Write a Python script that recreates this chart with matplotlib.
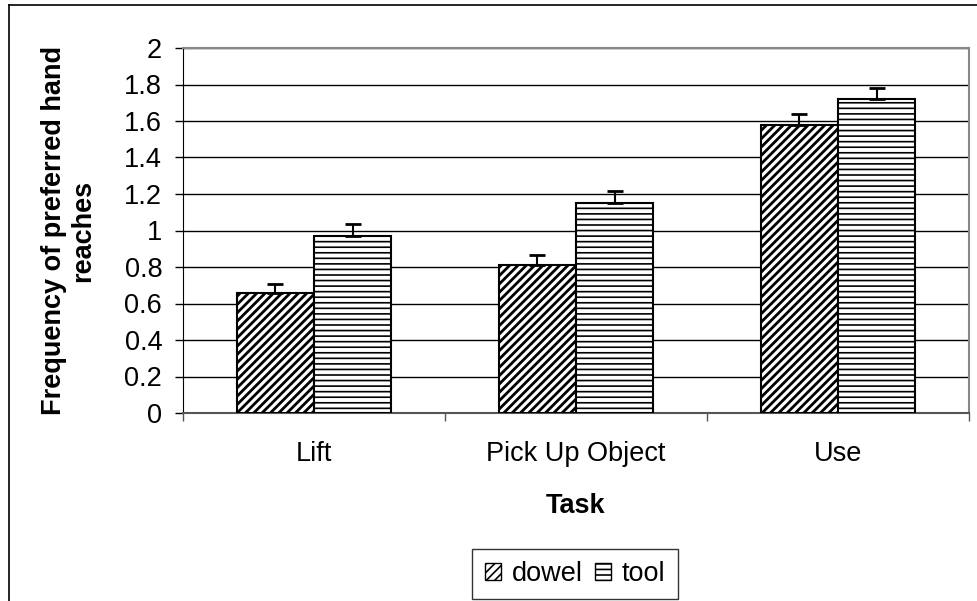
import matplotlib
matplotlib.use("Agg")
import matplotlib.pyplot as plt
from matplotlib.patches import Patch
from matplotlib.lines import Line2D
from matplotlib.ticker import FuncFormatter
import numpy as np

categories = ["Lift", "Pick Up Object", "Use"]
dowel = [0.657, 0.81, 1.58]
tool = [0.97, 1.15, 1.72]
dowel_err = [0.05, 0.055, 0.06]
tool_err = [0.065, 0.065, 0.06]
series_names = ["dowel", "tool"]

plt.rcParams['font.family'] = ['Liberation Sans', 'DejaVu Sans']
FS = 19.5

fig = plt.figure(figsize=(9.77, 6.01), dpi=100)
ax = fig.add_axes([183/977, 1 - 413/601, (969-183)/977, (413-48)/601])

x = np.arange(len(categories))
w = 0.294


def hatch_lw(bars, lw):
    for p in bars:
        if hasattr(p, "set_hatch_linewidth"):
            p.set_hatch_linewidth(lw)


plt.rcParams['hatch.linewidth'] = 2.0
b1 = ax.bar(x - w/2, dowel, width=w, color="white", edgecolor="black", linewidth=1.5,
            hatch="////", zorder=3)
hatch_lw(b1, 2.0)
plt.rcParams['hatch.linewidth'] = 1.2
b2 = ax.bar(x + w/2, tool, width=w, color="white", edgecolor="black", linewidth=1.5,
            hatch="---", zorder=3)
hatch_lw(b2, 1.2)

ax.errorbar(x - w/2, dowel, yerr=[np.zeros(3), dowel_err], fmt="none", ecolor="black",
            elinewidth=1.5, capsize=6, capthick=2, zorder=4)
ax.errorbar(x + w/2, tool, yerr=[np.zeros(3), tool_err], fmt="none", ecolor="black",
            elinewidth=1.5, capsize=6, capthick=2, zorder=4)

ax.set_xlim(-0.5, 2.5)
ax.set_ylim(0, 2)
ax.set_yticks(np.arange(0, 2.01, 0.2))
ax.yaxis.set_major_formatter(FuncFormatter(lambda v, p: "%g" % round(v, 1)))
ax.grid(axis="y", color="black", linewidth=1, zorder=0)

ax.set_xticks(x)
ax.set_xticklabels(categories)
ax.set_xticks([-0.5, 0.5, 1.5, 2.5], minor=True)
ax.tick_params(axis="x", which="major", length=0, pad=20, labelsize=FS)
ax.tick_params(axis="x", which="minor", length=6, width=1, direction="out", color="#555555")
ax.tick_params(axis="y", length=6, width=1, pad=9, labelsize=FS)

for s in ["top", "right"]:
    ax.spines[s].set_color("#888888")
    ax.spines[s].set_linewidth(1.5)
ax.spines["bottom"].set_color("#555555")
ax.spines["bottom"].set_linewidth(1.5)
ax.spines["left"].set_color("black")

ax.set_xlabel("Task", fontsize=FS, fontweight="bold", labelpad=19)
ax.set_ylabel("Frequency of preferred hand\nreaches", fontsize=FS, fontweight="bold",
              labelpad=20, linespacing=1.15)

handles = [Patch(facecolor="white", edgecolor="black", hatch="////"),
           Patch(facecolor="white", edgecolor="black", hatch="---")]
leg = fig.legend(handles, series_names, loc="center", bbox_to_anchor=(575/977, 1 - 574/601),
                 ncol=2, fontsize=FS, frameon=True, fancybox=False, handlelength=0.6,
                 handleheight=0.6, handletextpad=0.4, columnspacing=0.45, borderpad=0.45,
                 borderaxespad=0)
leg.get_frame().set_edgecolor("black")
leg.get_frame().set_linewidth(1)

fig.add_artist(Line2D([9/977, 1], [1 - 5/601, 1 - 5/601], color="black", linewidth=1.2,
                      transform=fig.transFigure))
fig.add_artist(Line2D([9/977, 9/977], [0, 1 - 5/601], color="black", linewidth=1.2,
                      transform=fig.transFigure))

fig.savefig("out.png", dpi=100)
